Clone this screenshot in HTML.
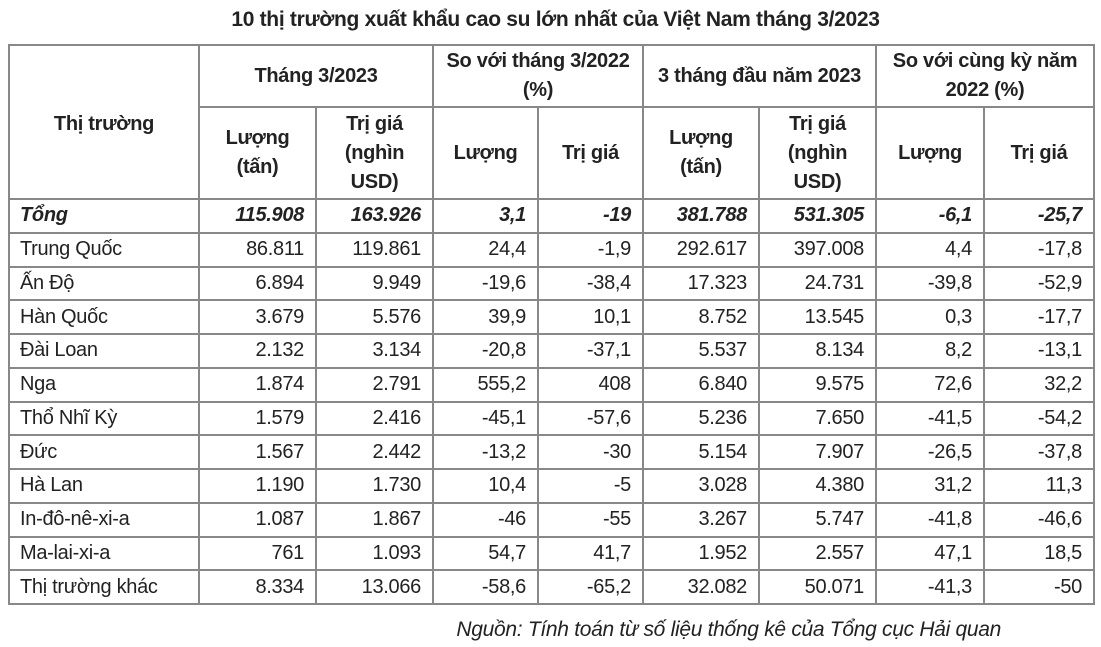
<!DOCTYPE html>
<html><head><meta charset="utf-8">
<style>
body{margin:0;width:1101px;height:647px;background:#fff;font-family:"Liberation Sans",sans-serif;color:#222;position:relative;overflow:hidden}
#title{position:absolute;left:0;width:1111px;top:8px;text-align:center;font-weight:bold;font-size:21px;letter-spacing:-0.3px}
table{position:absolute;left:8px;top:44px;border-collapse:collapse;table-layout:fixed;font-size:20px;letter-spacing:-0.3px}
td{border:2px solid #888;padding:0 10px;white-space:nowrap;overflow:hidden}
thead td{font-weight:bold;text-align:center;line-height:29px;white-space:normal;padding:0 4px}
tbody tr{height:33.75px}
tbody td{text-align:right;padding:0 11px 0 6px}
tbody td:first-child{text-align:left;padding-left:10px}
tr.total td{font-weight:bold;font-style:italic}
#src{position:absolute;left:0;width:1001px;top:618px;text-align:right;font-style:italic;font-size:21px;letter-spacing:-0.3px}
</style></head><body>
<div id="title">10 thị trường xuất khẩu cao su lớn nhất của Việt Nam tháng 3/2023</div>
<table>
<colgroup><col style="width:190px"><col style="width:117px"><col style="width:117px"><col style="width:105px"><col style="width:105px"><col style="width:116px"><col style="width:117px"><col style="width:108px"><col style="width:110px"></colgroup>
<thead>
<tr style="height:62px"><td rowspan="2" style="vertical-align:top;padding-top:64px">Thị trường</td><td colspan="2">Tháng 3/2023</td><td colspan="2">So với tháng 3/2022 (%)</td><td colspan="2">3 tháng đầu năm 2023</td><td colspan="2">So với cùng kỳ năm 2022 (%)</td></tr>
<tr style="height:92px"><td>Lượng<br>(tấn)</td><td>Trị giá<br>(nghìn<br>USD)</td><td>Lượng</td><td>Trị giá</td><td>Lượng<br>(tấn)</td><td>Trị giá<br>(nghìn<br>USD)</td><td>Lượng</td><td>Trị giá</td></tr>
</thead>
<tbody id="tb"></tbody>
</table>
<div id="src">Nguồn: Tính toán từ số liệu thống kê của Tổng cục Hải quan</div>
<script>
const markets=["Tổng","Trung Quốc","Ấn Độ","Hàn Quốc","Đài Loan","Nga","Thổ Nhĩ Kỳ","Đức","Hà Lan","In-đô-nê-xi-a","Ma-lai-xi-a","Thị trường khác"];
const volMar=["115.908","86.811","6.894","3.679","2.132","1.874","1.579","1.567","1.190","1.087","761","8.334"];
const valMar=["163.926","119.861","9.949","5.576","3.134","2.791","2.416","2.442","1.730","1.867","1.093","13.066"];
const volPct=["3,1","24,4","-19,6","39,9","-20,8","555,2","-45,1","-13,2","10,4","-46","54,7","-58,6"];
const valPct=["-19","-1,9","-38,4","10,1","-37,1","408","-57,6","-30","-5","-55","41,7","-65,2"];
const volQ1=["381.788","292.617","17.323","8.752","5.537","6.840","5.236","5.154","3.028","3.267","1.952","32.082"];
const valQ1=["531.305","397.008","24.731","13.545","8.134","9.575","7.650","7.907","4.380","5.747","2.557","50.071"];
const volYoy=["-6,1","4,4","-39,8","0,3","8,2","72,6","-41,5","-26,5","31,2","-41,8","47,1","-41,3"];
const valYoy=["-25,7","-17,8","-52,9","-17,7","-13,1","32,2","-54,2","-37,8","11,3","-46,6","18,5","-50"];
const tb=document.getElementById('tb');
const cols=[markets,volMar,valMar,volPct,valPct,volQ1,valQ1,volYoy,valYoy];
const names=["market","volume-mar","value-mar","volume-pct","value-pct","volume-q1","value-q1","volume-yoy","value-yoy"];
markets.forEach((m,i)=>{
 const tr=document.createElement('tr');
 
 
 if(i===0)tr.className='total';
 cols.forEach((c,j)=>{
  const td=document.createElement('td');
  
  
  td.textContent=c[i];
  tr.appendChild(td);
 });
 tb.appendChild(tr);
});
</script>
</body></html>
